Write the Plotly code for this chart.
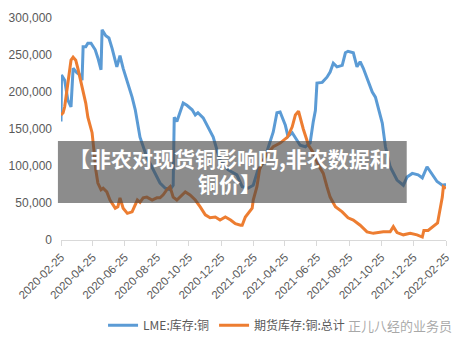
import plotly.graph_objects as go

# LME copper inventory (tonnes)
lme_dates = [
    "2020-02-25", "2020-02-26", "2020-03-03", "2020-03-09", "2020-03-15", "2020-03-19", "2020-03-26",
    "2020-04-01", "2020-04-05", "2020-04-07", "2020-04-12", "2020-04-16", "2020-04-22", "2020-04-30",
    "2020-05-05", "2020-05-11", "2020-05-13", "2020-05-20", "2020-05-26", "2020-06-01", "2020-06-10",
    "2020-06-16", "2020-06-22", "2020-07-01", "2020-07-09", "2020-07-15", "2020-07-20", "2020-07-24",
    "2020-08-06", "2020-08-18", "2020-08-31", "2020-09-10", "2020-09-19", "2020-09-25", "2020-09-27",
    "2020-10-02", "2020-10-08", "2020-10-14", "2020-10-21", "2020-10-31", "2020-11-06", "2020-11-11",
    "2020-11-21", "2020-11-30", "2020-12-10", "2020-12-17", "2020-12-23", "2021-01-07", "2021-01-24",
    "2021-02-03", "2021-02-14", "2021-02-24", "2021-03-05", "2021-03-15", "2021-03-24", "2021-04-03",
    "2021-04-10", "2021-04-16", "2021-04-26", "2021-05-01", "2021-05-09", "2021-05-24", "2021-06-03",
    "2021-06-12", "2021-06-18", "2021-06-22", "2021-06-25", "2021-07-05", "2021-07-14", "2021-07-20",
    "2021-07-26", "2021-08-02", "2021-08-12", "2021-08-18", "2021-08-23", "2021-09-02", "2021-09-09",
    "2021-09-15", "2021-09-21", "2021-09-30", "2021-10-08", "2021-10-14", "2021-10-19", "2021-10-27",
    "2021-11-02", "2021-11-11", "2021-11-24", "2021-12-06", "2021-12-13", "2021-12-23", "2022-01-03",
    "2022-01-11", "2022-01-20", "2022-01-30", "2022-02-08", "2022-02-18", "2022-02-25",
]
lme_values = [
    160000, 223000, 216000, 189000, 180000, 232000, 226000,
    223000, 216000, 261000, 261000, 266000, 266000, 257000,
    246000, 230000, 284000, 276000, 273000, 259000, 234000,
    249000, 232000, 212000, 193000, 176000, 153000, 139000,
    112000, 95000, 77000, 70000, 68000, 74000, 166000,
    160000, 172000, 185000, 182000, 176000, 169000, 172000,
    165000, 153000, 139000, 122000, 108000, 95000, 88000,
    72000, 70000, 74000, 95000, 104000, 124000, 146000,
    172000, 173000, 155000, 140000, 145000, 128000, 126000,
    131000, 160000, 175000, 212000, 213000, 220000, 227000,
    239000, 234000, 236000, 253000, 255000, 253000, 234000,
    241000, 232000, 216000, 200000, 193000, 178000, 158000,
    126000, 99000, 81000, 74000, 85000, 90000, 88000,
    84000, 99000, 88000, 79000, 74000, 75000,
]

# Futures copper inventory total (tonnes)
fut_dates = [
    "2020-02-25", "2020-02-29", "2020-03-03", "2020-03-09", "2020-03-15", "2020-03-19", "2020-03-24",
    "2020-03-28", "2020-04-02", "2020-04-06", "2020-04-12", "2020-04-16", "2020-04-22", "2020-04-24",
    "2020-04-28", "2020-05-01", "2020-05-05", "2020-05-11", "2020-05-15", "2020-05-22", "2020-05-28",
    "2020-06-07", "2020-06-12", "2020-06-16", "2020-06-22", "2020-06-30", "2020-07-09", "2020-07-15",
    "2020-07-19", "2020-07-24", "2020-07-30", "2020-08-06", "2020-08-16", "2020-08-25", "2020-08-31",
    "2020-09-06", "2020-09-13", "2020-09-19", "2020-09-25", "2020-10-02", "2020-10-12", "2020-10-18",
    "2020-10-27", "2020-11-06", "2020-11-15", "2020-11-25", "2020-12-04", "2020-12-14", "2020-12-23",
    "2021-01-02", "2021-01-12", "2021-01-21", "2021-01-31", "2021-02-03", "2021-02-09", "2021-02-14",
    "2021-02-22", "2021-02-24", "2021-03-03", "2021-03-08", "2021-03-15", "2021-03-24", "2021-04-03",
    "2021-04-16", "2021-04-30", "2021-05-09", "2021-05-15", "2021-05-21", "2021-05-30", "2021-06-09",
    "2021-06-18", "2021-06-28", "2021-07-07", "2021-07-14", "2021-07-20", "2021-07-30", "2021-08-12",
    "2021-08-23", "2021-09-02", "2021-09-15", "2021-09-28", "2021-10-10", "2021-10-29", "2021-11-11",
    "2021-11-17", "2021-11-24", "2021-12-06", "2021-12-19", "2022-01-01", "2022-01-11", "2022-01-14",
    "2022-01-22", "2022-01-31", "2022-02-09", "2022-02-18", "2022-02-20", "2022-02-25",
]
fut_values = [
    169000, 172000, 180000, 212000, 243000, 247000, 243000,
    232000, 216000, 200000, 185000, 166000, 151000, 145000,
    118000, 95000, 77000, 68000, 70000, 65000, 54000,
    43000, 45000, 57000, 43000, 36000, 38000, 47000,
    54000, 51000, 57000, 58000, 54000, 57000, 57000,
    61000, 68000, 72000, 58000, 54000, 61000, 65000,
    61000, 54000, 45000, 34000, 30000, 31000, 27000,
    31000, 27000, 22000, 20000, 20000, 31000, 36000,
    43000, 54000, 72000, 95000, 108000, 118000, 126000,
    131000, 139000, 153000, 169000, 174000, 150000, 128000,
    118000, 101000, 90000, 72000, 58000, 45000, 38000,
    30000, 27000, 20000, 11000, 9000, 11000, 11000,
    18000, 10000, 7000, 9000, 7000, 4000, 13000,
    13000, 18000, 23000, 58000, 72000, 70000,
]

x_ticks = [
    "2020-02-25", "2020-04-25", "2020-06-25", "2020-08-25", "2020-10-25", "2020-12-25",
    "2021-02-25", "2021-04-25", "2021-06-25", "2021-08-25", "2021-10-25", "2021-12-25", "2022-02-25",
]
y_ticks = [0, 50000, 100000, 150000, 200000, 250000, 300000]

series_names = ["LME:库存:铜", "期货库存:铜:总计"]
banner_line1 = "【非农对现货铜影响吗,非农数据和"
banner_line2 = "铜价】"
watermark_text = "正儿八经的业务员"

fig = go.Figure()
fig.add_trace(go.Scatter(x=lme_dates, y=lme_values, mode="lines", name=series_names[0],
                         line=dict(color="#5B9BD5", width=3)))
fig.add_trace(go.Scatter(x=fut_dates, y=fut_values, mode="lines", name=series_names[1],
                         line=dict(color="#ED7D31", width=3)))

banner_font = dict(family="Noto Sans CJK SC", size=21, color="white", weight="bold")

fig.update_layout(
    width=466, height=346,
    margin=dict(l=61, r=20, t=18, b=106, autoexpand=False),
    paper_bgcolor="white", plot_bgcolor="white",
    font=dict(family="Liberation Sans, Noto Sans CJK SC", size=12, color="#595959"),
    showlegend=True,
    legend=dict(orientation="h", x=0.43, xanchor="center",
                yref="container", y=0.06, yanchor="middle",
                font=dict(family="Noto Sans CJK SC", size=12, color="#595959"),
                itemwidth=30, tracegroupgap=0),
    xaxis=dict(type="date", range=[x_ticks[0], x_ticks[-1]], tickvals=x_ticks,
               ticktext=x_ticks, tickangle=-45, showgrid=False, zeroline=False,
               showline=True, linecolor="#d9d9d9", linewidth=1, automargin=False,
               ticks="outside", ticklen=5, tickcolor="#d9d9d9",
               tickfont=dict(size=11.5, color="#595959")),
    yaxis=dict(range=[0, 300000], tickvals=y_ticks, tickformat=",", showgrid=False,
               zeroline=False, showline=False, ticks="", ticklabelstandoff=8,
               automargin=False, tickfont=dict(size=12, color="#595959")),
    shapes=[dict(type="rect", xref="paper", yref="paper", x0=-0.008, x1=0.898,
                 y0=0.167, y1=0.446, fillcolor="rgba(70,70,70,0.62)", line=dict(width=0),
                 layer="above")],
    annotations=[
        dict(text=banner_line1, xref="paper", yref="paper", x=0.438, y=0.369,
             xanchor="center", yanchor="middle", showarrow=False, font=banner_font),
        dict(text=banner_line2, xref="paper", yref="paper", x=0.438, y=0.257,
             xanchor="center", yanchor="middle", showarrow=False, font=banner_font),
        dict(text=watermark_text, xref="paper", yref="paper", x=1.02, y=-0.383,
             xanchor="right", yanchor="middle", showarrow=False,
             font=dict(family="Noto Sans CJK SC", size=13, color="rgba(140,140,140,0.75)")),
    ],
)

fig.write_html("out.html")
